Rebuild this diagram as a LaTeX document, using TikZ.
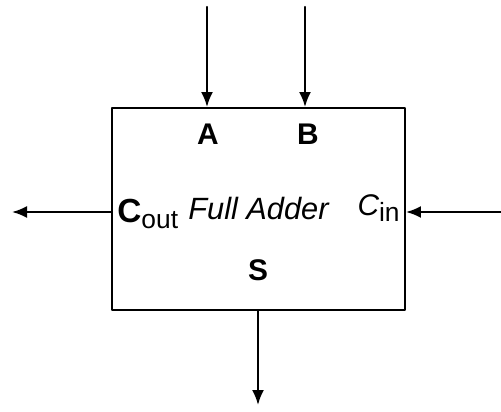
\documentclass[tikz,border=0pt]{standalone}
\usepackage{fontspec}
\setmainfont{Liberation Sans}
\usetikzlibrary{arrows.meta}

\begin{document}
\begin{tikzpicture}[line cap=round,line join=round,
    sig/.style={line width=1.2pt,-{Latex[length=3mm,width=2.4mm]}},
    pin/.style={font=\fontsize{17}{19}\selectfont\bfseries,inner sep=0pt}]
  \useasboundingbox (0,0) rectangle (10.02,8.22);
  % 框
  \node[draw,line width=1.1pt,minimum width=5.86cm,minimum height=4.04cm,inner sep=0pt,
        font=\fontsize{17.5}{19}\selectfont\itshape] (adder) at (5.17,4.04) {Full Adder};
  \node[pin] (labA) at (4.16,5.54) {A};
  \node[pin] (labB) at (6.16,5.54) {B};
  \node[pin] (labS) at (5.16,2.82) {S};
  \node[inner sep=0pt,anchor=base west] (labCout) at (2.34,3.78)
    {\fontsize{19}{21}\selectfont\bfseries C\fontsize{15}{17}\selectfont\mdseries\raisebox{-0.45ex}{out}};
  \node[inner sep=0pt,anchor=base east] (labCin) at (8.00,3.92)
    {\fontsize{17}{19}\selectfont\itshape C\fontsize{15}{17}\selectfont\upshape\raisebox{-0.45ex}{in}};
  % 端口
  \coordinate (inA) at (4.14,8.08);
  \coordinate (inB) at (6.10,8.08);
  \coordinate (outC) at (0.24,3.98);
  \coordinate (inC) at (10.02,3.98);
  \coordinate (outS) at (5.16,0.12);
  \draw[sig] (inA) -- (inA |- adder.north);
  \draw[sig] (inB) -- (inB |- adder.north);
  \draw[sig] (outC -| adder.west) -- (outC);
  \draw[sig] (inC) -- (inC -| adder.east);
  \draw[sig] (outS |- adder.south) -- (outS);
\end{tikzpicture}
\end{document}
